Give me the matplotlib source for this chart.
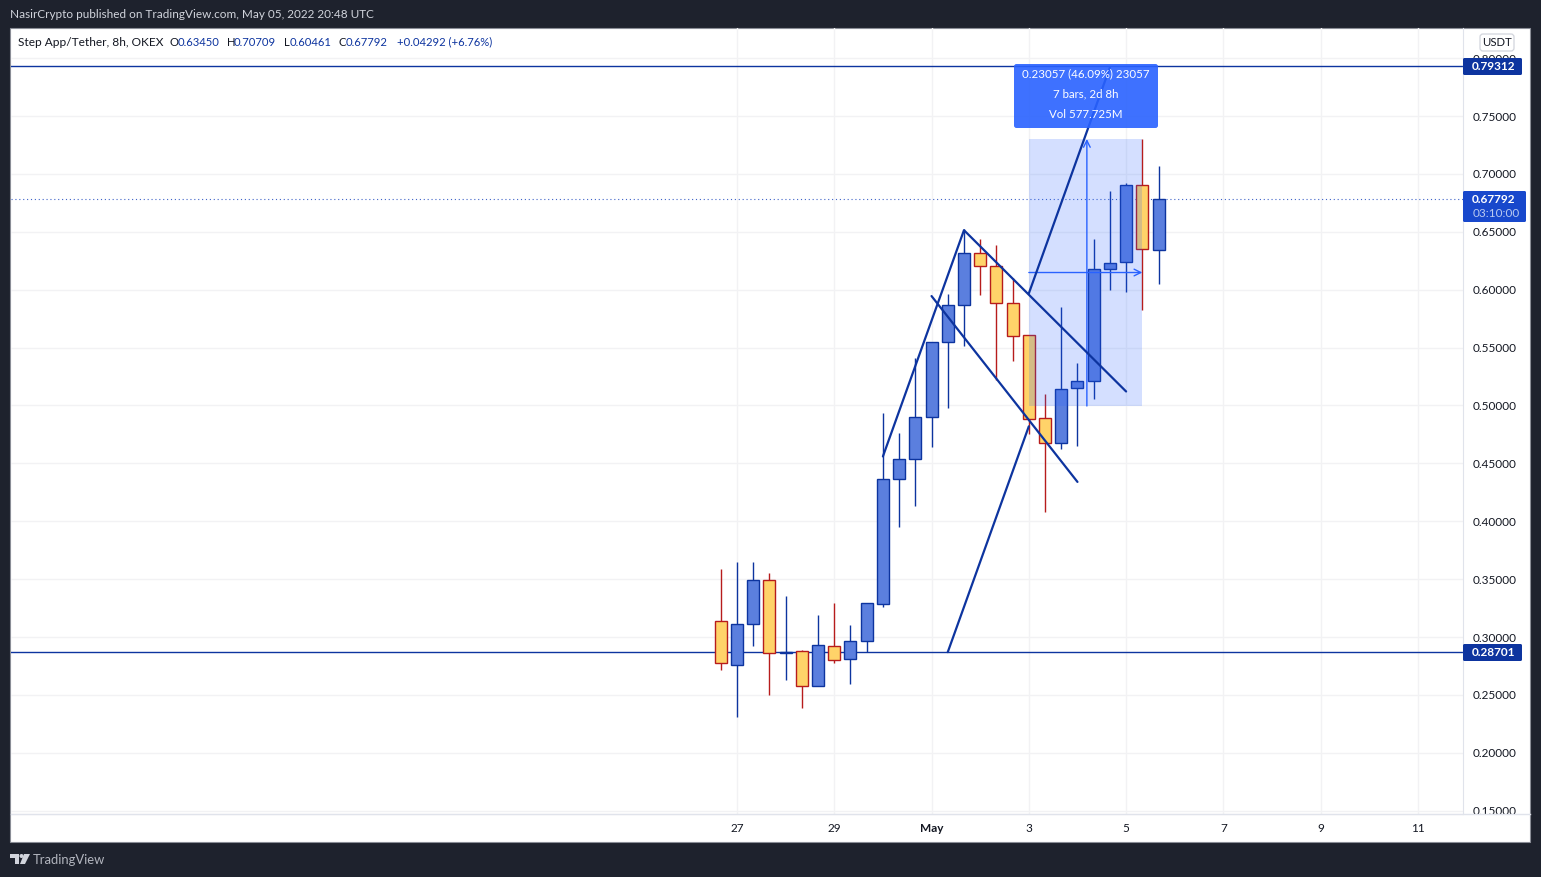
import numpy as np
import matplotlib
matplotlib.use('Agg')
import matplotlib.pyplot as plt
from matplotlib.patches import Rectangle, FancyBboxPatch, Polygon, Circle
from matplotlib.transforms import Affine2D

plt.rcParams['font.family'] = ['Lato', 'DejaVu Sans']

W, H = 1541, 877
FS = 8.5

# bar position 0 is Apr 27 00:00, 3 bars a day
bars = np.arange(-1, 27)
opens = [0.3136, 0.2756, 0.3110, 0.3490, 0.2860, 0.2877, 0.2575, 0.2920, 0.2808, 0.2963,
         0.3283, 0.4363, 0.4535, 0.4898, 0.5546, 0.5865, 0.6314, 0.6202, 0.5882, 0.5606,
         0.4889, 0.4673, 0.5148, 0.5209, 0.6176, 0.6237, 0.6901, 0.6345]
closes = [0.2773, 0.3110, 0.3490, 0.2860, 0.2868, 0.2575, 0.2929, 0.2800, 0.2963, 0.3292,
          0.4363, 0.4535, 0.4898, 0.5548, 0.5865, 0.6314, 0.6202, 0.5882, 0.5597, 0.4881,
          0.4673, 0.5140, 0.5209, 0.6176, 0.6228, 0.6901, 0.6349, 0.67792]
highs = [0.3588, 0.3648, 0.3648, 0.3553, 0.3355, 0.2888, 0.3191, 0.3294, 0.3104, 0.3292,
         0.4935, 0.4762, 0.5410, 0.5548, 0.5960, 0.6524, 0.6435, 0.6383, 0.6098, 0.5606,
         0.5097, 0.5848, 0.5364, 0.6438, 0.6852, 0.6919, 0.7301, 0.70709]
lows = [0.2718, 0.2312, 0.2926, 0.2502, 0.2632, 0.2390, 0.2575, 0.2779, 0.2597, 0.2868,
        0.3262, 0.3953, 0.4135, 0.4644, 0.4981, 0.5516, 0.5957, 0.5220, 0.5387, 0.4756,
        0.4083, 0.4627, 0.4653, 0.5059, 0.6000, 0.5983, 0.5827, 0.60461]

price_ticks = [0.15, 0.20, 0.25, 0.30, 0.35, 0.40, 0.45, 0.50, 0.55, 0.60, 0.65, 0.70, 0.75, 0.80]
date_ticks = [0, 6, 12, 18, 24, 30, 36, 42]
date_labels = ['27', '29', 'May', '3', '5', '7', '9', '11']

level_top = 0.79312
level_bottom = 0.28701
last_price = 0.67792

# drawn trend lines, (bar, price)
leg_up_x = [9, 14, 24]
leg_up_y = [0.4560, 0.6514, 0.5121]
channel_x = [12, 21]
channel_y = [0.5945, 0.4340]
target_x = [13, 18]
target_y = [0.2870, 0.4820]
target2_x = [18, 23]
target2_y = [0.5968, 0.7920]

measure_x = [18, 25]
measure_low = 0.49955
measure_high = 0.73012

UP_FILL, UP_EDGE = '#5B7FDE', '#0D349F'
DOWN_FILL, DOWN_EDGE = '#FFD369', '#B71C1C'
GRID = '#F2F2F4'
DARK = '#1E222D'
TEXT = '#131722'
LINE_BLUE = '#0D349F'

fig = plt.figure(figsize=(W / 100, H / 100), dpi=100, facecolor=DARK)
px = Affine2D().scale(1 / W, -1 / H).translate(0, 1) + fig.transFigure

fig.add_artist(Rectangle((10.5, 27.5), 1520, 814, transform=px, fc='white', ec='#8A8D96', lw=0.8, zorder=-1))

ax = fig.add_axes([11 / W, 1 - 814 / H, (1463 - 11) / W, (814 - 28) / H], facecolor='none')
ax.set_xlim(-44.78, 44.78)
ax.set_ylim(0.14720, 0.82600)
ax.yaxis.tick_right()
ax.set_yticks(price_ticks)
ax.set_yticklabels(['%.5f' % p for p in price_ticks])
ax.set_xticks(date_ticks)
ax.set_xticklabels(date_labels)
ax.tick_params(length=0, labelsize=FS, labelcolor=TEXT, pad=7)
ax.tick_params(axis='x', pad=6.5)
ax.get_xticklabels()[2].set_fontweight('bold')
ax.grid(True, color=GRID, lw=1)
ax.set_axisbelow(True)
for s in ['top', 'left']:
    ax.spines[s].set_visible(False)
ax.spines['right'].set_color('#E0E3EB')
ax.spines['bottom'].set_color('#E0E3EB')

# levels
ax.axhline(level_top, color=LINE_BLUE, lw=1, zorder=2)
ax.axhline(level_bottom, color=LINE_BLUE, lw=1, zorder=2)
ax.axhline(last_price, color='#3F63C8', lw=0.8, ls=(0, (1, 2.5)), zorder=2)

# candles
opens_a, closes_a = np.array(opens), np.array(closes)
up = closes_a >= opens_a
ax.vlines(bars[up], np.array(lows)[up], np.array(highs)[up], color=UP_EDGE, lw=1, zorder=3)
ax.vlines(bars[~up], np.array(lows)[~up], np.array(highs)[~up], color=DOWN_EDGE, lw=1, zorder=3)
ax.bar(bars[up], (closes_a - opens_a)[up], bottom=opens_a[up], width=0.74,
       color=UP_FILL, edgecolor=UP_EDGE, lw=1, zorder=3.1)
ax.bar(bars[~up], (opens_a - closes_a)[~up], bottom=closes_a[~up], width=0.74,
       color=DOWN_FILL, edgecolor=DOWN_EDGE, lw=1, zorder=3.1)

# date and price range tool
ax.add_patch(Rectangle((measure_x[0], measure_low), measure_x[1] - measure_x[0], measure_high - measure_low,
                       fc='#2962FF', alpha=0.2, ec='none', zorder=4))
mid_bar = sum(measure_x) / 2 + 0.08
mid_price = (measure_low + measure_high) / 2
ax.annotate('', xy=(mid_bar, measure_high), xytext=(mid_bar, measure_low), zorder=4.5,
            arrowprops=dict(arrowstyle='->', color='#2962FF', lw=1, shrinkA=0, shrinkB=0, mutation_scale=12))
ax.annotate('', xy=(measure_x[1], mid_price), xytext=(measure_x[0], mid_price), zorder=4.5,
            arrowprops=dict(arrowstyle='->', color='#2962FF', lw=1, shrinkA=0, shrinkB=0, mutation_scale=12))

# trend lines
for lx, ly in [(leg_up_x, leg_up_y), (channel_x, channel_y), (target_x, target_y), (target2_x, target2_y)]:
    ax.plot(lx, ly, color=LINE_BLUE, lw=1.6, zorder=5, solid_capstyle='round')

# label of the range tool
fig.add_artist(FancyBboxPatch((1014, 64), 144, 64, boxstyle='round,pad=0,rounding_size=2.5', transform=px,
                              fc='#2962FF', ec='none', alpha=0.9, zorder=6))
for yy, s in zip([74, 94, 114], ['0.23057 (46.09%) 23057', '7 bars, 2d 8h', 'Vol 577.725M']):
    fig.text(1086, yy, s, transform=px, color='white', fontsize=8.3, ha='center', va='center', zorder=7)

# cover the tick label under the time axis strip
fig.add_artist(Rectangle((1464, 814.6), 65.5, 26, transform=px, fc='white', ec='none', zorder=3))
fig.add_artist(plt.Line2D([11, 1530], [814, 814], transform=px, color='#E0E3EB', lw=1, zorder=4))

# price tags
def tag(y0, y1, x1, color):
    fig.add_artist(FancyBboxPatch((1463, y0), x1 - 1463, y1 - y0, boxstyle='round,pad=0,rounding_size=1.5',
                                  transform=px, fc=color, ec='none', zorder=6))

tag(58, 75, 1522, '#0D349F')
fig.text(1494, 66.5, '0.79312', transform=px, color='white', fontsize=FS, fontweight='bold', ha='center', va='center', zorder=7)
tag(644, 661, 1522, '#0D349F')
fig.text(1494, 652.5, '0.28701', transform=px, color='white', fontsize=FS, fontweight='bold', ha='center', va='center', zorder=7)
tag(191, 222, 1526, '#1848CC')
fig.text(1494, 199.5, '0.67792', transform=px, color='white', fontsize=FS, fontweight='bold', ha='center', va='center', zorder=7)
fig.text(1496, 213.5, '03:10:00', transform=px, color='#B9C9F0', fontsize=FS, ha='center', va='center', zorder=7)

fig.add_artist(FancyBboxPatch((1480, 34), 34, 17, boxstyle='round,pad=0,rounding_size=3', transform=px,
                              fc='white', ec='#D1D4DC', lw=0.9, zorder=6))
fig.text(1497, 42.5, 'USDT', transform=px, color=TEXT, fontsize=8.2, ha='center', va='center', zorder=7)

# header
fig.text(10, 15, 'NasirCrypto published on TradingView.com, May 05, 2022 20:48 UTC', transform=px,
         color='#D1D4DC', fontsize=FS, va='center')
fig.text(18, 42, 'Step App/Tether, 8h, OKEX', transform=px, color=TEXT, fontsize=8.6, va='center')
for xx, s, c in [(170, 'O', TEXT), (178, '0.63450', LINE_BLUE), (227, 'H', TEXT), (234, '0.70709', LINE_BLUE),
                 (284, 'L', TEXT), (290, '0.60461', LINE_BLUE), (339, 'C', TEXT), (346, '0.67792', LINE_BLUE),
                 (397, '+0.04292 (+6.76%)', LINE_BLUE)]:
    fig.text(xx, 42, s, transform=px, color=c, fontsize=8.1, va='center')

# footer logo
LOGO = '#D1D4DC'
fig.add_artist(Polygon([(10, 854), (19, 854), (19, 864), (15, 864), (15, 858), (10, 858)], transform=px, fc=LOGO, ec='none'))
fig.add_artist(Circle((21.5, 856), 2, transform=px, fc=LOGO, ec='none'))
fig.add_artist(Polygon([(24, 854), (30, 854), (25, 864), (20, 864)], transform=px, fc=LOGO, ec='none'))
fig.text(33, 859.5, 'TradingView', transform=px, color='#B2B5BE', fontsize=9.4, va='center')

fig.savefig('out.png', dpi=100, facecolor=DARK)
